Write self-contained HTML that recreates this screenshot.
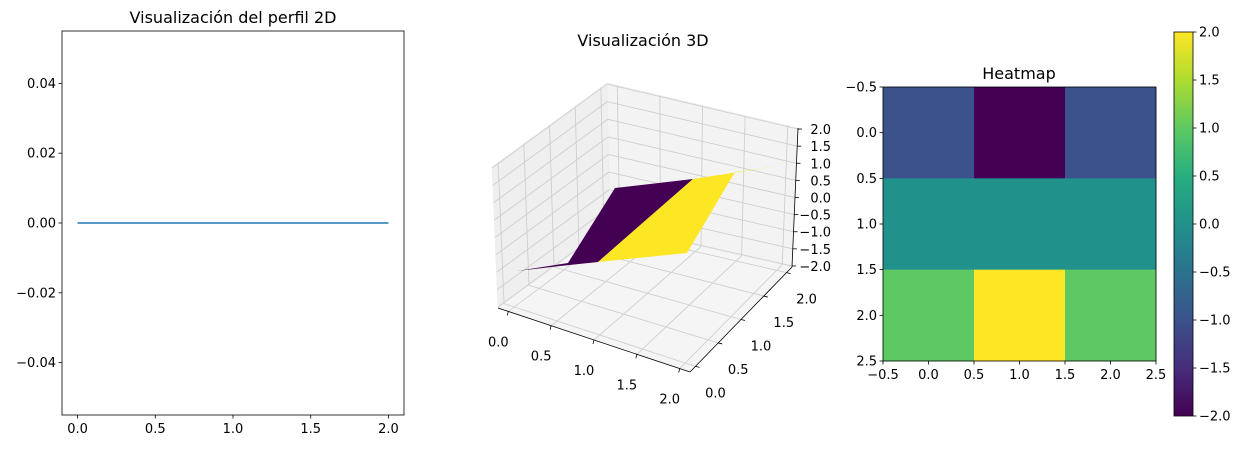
<!DOCTYPE html>
<html><head><meta charset="utf-8">
<style>
body{margin:0;background:#fff;}
svg{display:block;font-family:"DejaVu Sans","Liberation Sans",sans-serif;}
</style></head>
<body>
<svg id="fig" width="1246" height="450" viewBox="0 0 1246 450">
<g id="p1"></g>
<g id="p2"></g>
<g id="p3"></g>
</svg>
<script>
const NS="http://www.w3.org/2000/svg";
// ---- data ----
const profileX=[0,0.5,1,1.5,2];
const profileY=[0,0,0,0,0];
const profXTicks=[0,0.5,1,1.5,2];
const profYTicks=[-0.04,-0.02,0,0.02,0.04];
const heatRows=[[-1,-2,-1],[0,0,0],[1,2,1]];
const heatTicks=[-0.5,0,0.5,1,1.5,2,2.5];
const cbarTicks=[-2,-1.5,-1,-0.5,0,0.5,1,1.5,2];
const axTicks3d=[0,0.5,1,1.5,2];
const zTicks3d=[-2,-1.5,-1,-0.5,0,0.5,1,1.5,2];

function el(parent,tag,attrs,text){const e=document.createElementNS(NS,tag);for(const k in attrs)e.setAttribute(k,attrs[k]);if(text!==undefined)e.textContent=text;parent.appendChild(e);return e;}
function fmt(v,d){let s=v.toFixed(d);if(v<0)s="\u2212"+s.slice(1);if(Math.abs(v)<1e-9)s=(0).toFixed(d);return s;}

// ---- panel 1 ----
(function(){
const g=document.getElementById('p1');
const L=62,R=404,T=31,B=415,x0=-0.1,x1=2.1,y0=-0.055,y1=0.055;
const sx=v=>L+(v-x0)/(x1-x0)*(R-L), sy=v=>B-(v-y0)/(y1-y0)*(B-T);
let d=profileX.map((x,i)=>(i?'L':'M')+sx(x)+','+sy(profileY[i])).join('');
const ln=el(g,'path',{d:d,stroke:'#1f77b4','stroke-width':1.5,fill:'none'});


const fr=el(g,'rect',{x:L,y:T,width:R-L,height:B-T,fill:'none',stroke:'#000','stroke-width':0.8});


profXTicks.forEach(v=>{const x=sx(v);el(g,'line',{x1:x,x2:x,y1:B,y2:B+3.5,stroke:'#000','stroke-width':0.8});
const t=el(g,'text',{x:x,y:B+18,'font-size':13,'text-anchor':'middle'},fmt(v,1));

});
profYTicks.forEach(v=>{const y=sy(v);el(g,'line',{x1:L,x2:L-3.5,y1:y,y2:y,stroke:'#000','stroke-width':0.8});
const t=el(g,'text',{x:L-6,y:y+4.5,'font-size':13,'text-anchor':'end'},fmt(v,2));

});
const ti=el(g,'text',{x:233,y:23,'font-size':16,'text-anchor':'middle'},'Visualización del perfil 2D');


})();

// ---- panel 2 (3D) ----
(function(){
const g=document.getElementById('p2');
const xr=[-0.12,2.12],yr=[-0.12,2.12],zr=[-2.03,2.03];
const C={ '000':[498,308],'100':[690,372],'110':[792,267],'010':[610,226],
          '001':[492,167],'101':[687,231],'111':[798,128],'011':[607,83]};
const lerp=(a,b,t)=>[a[0]+(b[0]-a[0])*t,a[1]+(b[1]-a[1])*t];
function P(x,y,z){const u=(x-xr[0])/(xr[1]-xr[0]),v=(y-yr[0])/(yr[1]-yr[0]),w=(z-zr[0])/(zr[1]-zr[0]);
const b0=lerp(lerp(C['000'],C['100'],u),lerp(C['010'],C['110'],u),v);
const b1=lerp(lerp(C['001'],C['101'],u),lerp(C['011'],C['111'],u),v);
return lerp(b0,b1,w);}
const pts=a=>a.map(p=>p.join(',')).join(' ');
const X0=xr[0],X1=xr[1],Y0=yr[0],Y1=yr[1],Z0=zr[0],Z1=zr[1];
[[[X0,Y0,Z0],[X0,Y1,Z0],[X0,Y1,Z1],[X0,Y0,Z1],'left-pane','#efefef'],
 [[X0,Y1,Z0],[X1,Y1,Z0],[X1,Y1,Z1],[X0,Y1,Z1],'back-pane','#f3f3f3'],
 [[X0,Y0,Z0],[X1,Y0,Z0],[X1,Y1,Z0],[X0,Y1,Z0],'floor-pane','#f5f5f5']].forEach(q=>{
 const p=el(g,'polygon',{points:pts(q.slice(0,4).map(a=>P(...a))),fill:q[5],stroke:'#ebebeb','stroke-width':0.5});
 
 });
const gl=(a,b)=>{const A=P(...a),B=P(...b);el(g,'line',{x1:A[0],y1:A[1],x2:B[0],y2:B[1],stroke:'#cfcfcf','stroke-width':0.9});};
axTicks3d.forEach(v=>{gl([v,Y0,Z0],[v,Y1,Z0]);gl([v,Y1,Z0],[v,Y1,Z1]);});
axTicks3d.forEach(v=>{gl([X0,v,Z0],[X1,v,Z0]);gl([X0,v,Z0],[X0,v,Z1]);});
zTicks3d.forEach(v=>{gl([X0,Y0,v],[X0,Y1,v]);gl([X0,Y1,v],[X1,Y1,v]);});
const al=(a,b,n)=>{const A=P(...a),B=P(...b);const l=el(g,'line',{x1:A[0],y1:A[1],x2:B[0],y2:B[1],stroke:'#000','stroke-width':0.8});};
al([X0,Y0,Z0],[X1,Y0,Z0],'x-axis-line');al([X1,Y0,Z0],[X1,Y1,Z0],'y-axis-line');al([X1,Y1,Z0],[X1,Y1,Z1],'z-axis-line');
const sp=el(g,'polygon',{points:'517,271 568,263 615,188 693,179 598,262 560,266',fill:'#440154'});


const sy2=el(g,'polygon',{points:'598,262 687,253 735,172 778,166 693,179',fill:'#fde725'});


axTicks3d.forEach(v=>{const A=P(v,Y0,Z0);el(g,'line',{x1:A[0],y1:A[1],x2:A[0]-1,y2:A[1]+4,stroke:'#000','stroke-width':0.8});
const t=el(g,'text',{x:A[0]-10,y:A[1]+35,'font-size':13,'text-anchor':'middle'},fmt(v,1));
});
axTicks3d.forEach(v=>{const A=P(X1,v,Z0);el(g,'line',{x1:A[0],y1:A[1],x2:A[0]+4,y2:A[1]+1,stroke:'#000','stroke-width':0.8});
const t=el(g,'text',{x:A[0]+20,y:A[1]+31,'font-size':13,'text-anchor':'middle'},fmt(v,1));
});
zTicks3d.forEach(v=>{const A=P(X1,Y1,v);el(g,'line',{x1:A[0],y1:A[1],x2:A[0]+4,y2:A[1],stroke:'#000','stroke-width':0.8});
const t=el(g,'text',{x:831,y:A[1]+5,'font-size':13,'text-anchor':'end'},fmt(v,1));
});
const ti=el(g,'text',{x:643,y:46,'font-size':16,'text-anchor':'middle'},'Visualización 3D');


})();

// ---- panel 3 heatmap ----
(function(){
const g=document.getElementById('p3');
const L=883,R=1156,T=87,B=361,lo=-0.5,hi=2.5;
const sx=v=>L+(v-lo)/(hi-lo)*(R-L), sy=v=>T+(v-lo)/(hi-lo)*(B-T);
const vir=[[0,'#440154'],[0.125,'#472d7b'],[0.25,'#3b528b'],[0.375,'#2c728e'],[0.5,'#21918c'],[0.625,'#28ae80'],[0.75,'#5ec962'],[0.875,'#addc30'],[1,'#fde725']];
function col(v){const t=(v+2)/4;const h=c=>[1,3,5].map(i=>parseInt(c.slice(i,i+2),16));
for(let i=0;i<vir.length-1;i++){if(t<=vir[i+1][0]+1e-9){const f=(t-vir[i][0])/(vir[i+1][0]-vir[i][0]);const a=h(vir[i][1]),b=h(vir[i+1][1]);return 'rgb('+a.map((x,k)=>Math.round(x+(b[k]-x)*f)).join(',')+')';}}return vir[8][1];}
heatRows.forEach((row,r)=>row.forEach((v,c)=>{const x=sx(c-0.5),y=sy(r-0.5);
const cell=el(g,'rect',{x:x,y:y,width:sx(c+0.5)-x+0.3,height:sy(r+0.5)-y+0.3,fill:col(v)});

}));
const fr=el(g,'rect',{x:L,y:T,width:R-L,height:B-T,fill:'none',stroke:'#000','stroke-width':0.8});


heatTicks.forEach(v=>{const x=sx(v);el(g,'line',{x1:x,x2:x,y1:B,y2:B+3.5,stroke:'#000','stroke-width':0.8});
const t=el(g,'text',{x:x,y:B+18,'font-size':13,'text-anchor':'middle'},fmt(v,1));

const y=sy(v);el(g,'line',{x1:L,x2:L-3.5,y1:y,y2:y,stroke:'#000','stroke-width':0.8});
const t2=el(g,'text',{x:L-6,y:y+4.5,'font-size':13,'text-anchor':'end'},fmt(v,1));
});
const ti=el(g,'text',{x:1019,y:79,'font-size':16,'text-anchor':'middle'},'Heatmap');


const CL=1174,CR=1193,CT=32,CB=416;
const defs=el(g,'defs',{});const lg=el(defs,'linearGradient',{id:'vg',x1:0,y1:1,x2:0,y2:0});
vir.forEach(s=>el(lg,'stop',{offset:s[0],'stop-color':s[1]}));
const cb=el(g,'rect',{x:CL,y:CT,width:CR-CL,height:CB-CT,fill:'url(#vg)',stroke:'#000','stroke-width':0.8});


const cy=v=>CB-(v+2)/4*(CB-CT);
cbarTicks.forEach(v=>{const y=cy(v);el(g,'line',{x1:CR,x2:CR+3.5,y1:y,y2:y,stroke:'#000','stroke-width':0.8});
const t=el(g,'text',{x:CR+6,y:y+4.5,'font-size':13},fmt(v,1));
});
})();
</script>
</body></html>
